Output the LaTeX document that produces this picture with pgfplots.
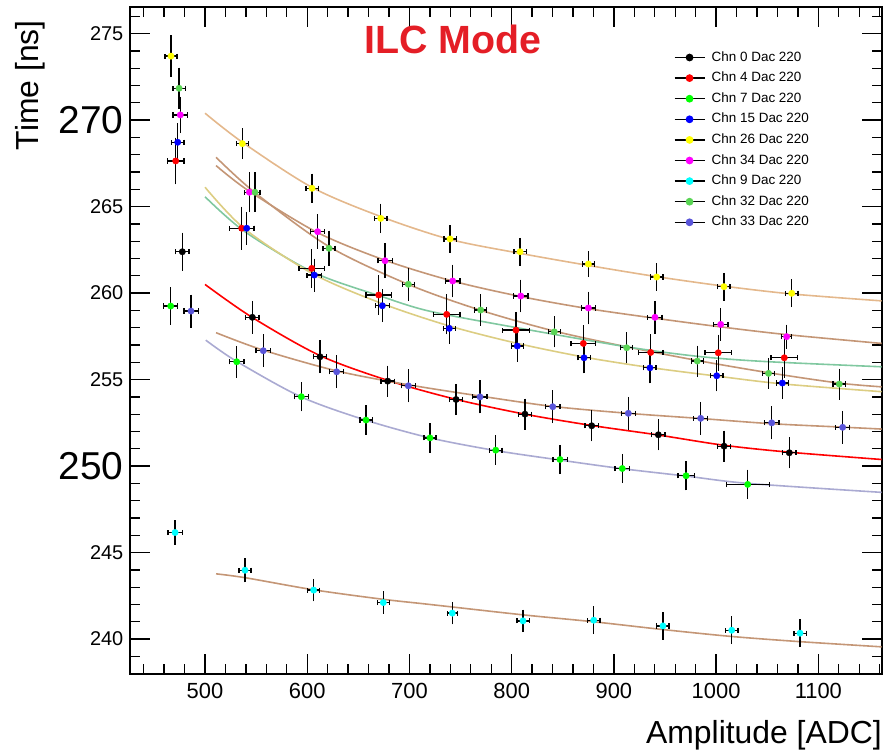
\documentclass[border=0pt]{standalone}
\usepackage{pgfplots}
\pgfplotsset{compat=1.18}
\usepackage{pgfplotstable}
\usepackage{fontspec}
\setmainfont{Liberation Sans}

% ROOT colours 1..9 and the fit colours
\definecolor{c1}{RGB}{0,0,0}
\definecolor{c2}{RGB}{255,0,0}
\definecolor{c3}{RGB}{0,255,0}
\definecolor{c4}{RGB}{0,0,255}
\definecolor{c5}{RGB}{255,255,0}
\definecolor{c6}{RGB}{255,0,255}
\definecolor{c7}{RGB}{0,255,255}
\definecolor{c8}{RGB}{89,212,84}
\definecolor{c9}{RGB}{89,84,217}
\definecolor{fittan}{RGB}{228,184,140}
\definecolor{fitbrown}{RGB}{196,150,118}
\definecolor{fitteal}{RGB}{128,200,160}
\definecolor{fitkhaki}{RGB}{220,205,130}
\definecolor{fitlav}{RGB}{170,170,210}
\definecolor{ilcred}{RGB}{228,30,38}

% x y ex ey
\pgfplotstableread{
x y ex ey
477.8 262.39 6.5 0.95
546.3 258.60 6.5 0.80
612.5 256.32 6.5 0.80
678.7 254.91 6.5 0.75
745.6 253.85 6.5 0.75
813.0 253.00 6.5 0.75
878.3 252.33 6.5 0.75
943.5 251.81 6.5 0.75
1007.8 251.15 6.5 0.75
1071.6 250.77 6.5 0.75
}\chnzero
\pgfplotstableread{
x y ex ey
471.3 267.64 8 1.20
535.9 263.75 12 1.10
604.4 261.43 12.5 0.96
669.9 259.89 12.5 1.00
736.4 258.77 13 1.00
804.2 257.86 13 0.90
870.1 257.09 12 0.90
936.0 256.57 12 0.90
1002.1 256.55 13 0.90
1066.7 256.26 13 1.00
}\chnfour
\pgfplotstableread{
x y ex ey
466.4 259.25 7 0.93
531.0 256.03 7 0.77
594.2 254.01 7 0.70
657.5 252.66 6 0.70
720.1 251.63 6 0.70
784.4 250.92 6 0.70
847.3 250.38 7 0.70
908.2 249.86 7 0.70
970.6 249.44 8 0.70
1030.9 248.94 21 0.70
}\chnseven
\pgfplotstableread{
x y ex ey
473.3 268.72 6 0.95
540.8 263.75 7 0.80
606.9 261.04 7 0.80
673.5 259.27 7 0.80
739.0 257.96 6 0.75
805.5 256.94 6 0.75
870.8 256.26 6 0.75
935.3 255.68 6 0.75
1000.6 255.22 6 0.75
1064.8 254.80 6 0.75
}\chnfifteen
\pgfplotstableread{
x y ex ey
466.7 273.70 6 1.05
536.5 268.64 6 0.75
604.7 266.06 6 0.70
671.9 264.32 6 0.70
739.7 263.13 6 0.65
808.2 262.39 6 0.65
875.0 261.68 6 0.60
941.9 260.93 6 0.65
1007.7 260.37 6 0.65
1074.0 259.99 6 0.65
}\chntwentysix
\pgfplotstableread{
x y ex ey
475.8 270.30 7 0.90
543.4 265.83 5 1.00
610.2 263.55 7 0.85
676.1 261.87 7 0.85
742.3 260.70 7 0.80
808.9 259.83 7 0.80
875.0 259.14 7 0.80
940.2 258.60 7 0.80
1004.5 258.19 7 0.80
1069.0 257.48 5 0.55
}\chnthirtyfour
\pgfplotstableread{
x y ex ey
470.7 246.16 7 0.56
539.1 243.98 6 0.55
606.3 242.83 6 0.50
674.4 242.11 6 0.50
741.9 241.50 5 0.50
811.1 241.05 6 0.50
880.3 241.09 6 0.65
948.0 240.76 6 0.65
1015.3 240.51 6 0.65
1082.1 240.34 6 0.65
}\chnnine
\pgfplotstableread{
x y ex ey
474.6 271.84 6 1.05
548.9 265.83 5 1.00
621.3 262.59 6 0.87
698.9 260.51 6 0.80
769.7 259.02 6 0.75
841.7 257.76 6 0.75
912.5 256.84 6 0.75
981.6 256.07 6 0.75
1051.3 255.36 6 0.75
1120.5 254.74 6 0.75
}\chnthirtytwo
\pgfplotstableread{
x y ex ey
486.3 258.96 7 0.80
557.0 256.67 7 0.80
628.8 255.45 7 0.80
698.9 254.64 7 0.80
769.0 254.00 7 0.80
840.2 253.43 7 0.80
914.1 253.05 7 0.80
984.9 252.76 7 0.80
1054.4 252.50 7 0.80
1123.8 252.24 7 0.80
}\chnthirtythree

\pgfplotsset{
  xerr/.style={only marks, mark=none, forget plot,
    error bars/.cd, x dir=both, x explicit, error mark=|,
    error bar style={draw=black, solid, line width=1.3bp},
    error mark options={draw=black, solid, rotate=0, line width=1.3bp, mark size=2.6bp}},
  yerr/.style={only marks, mark=none, forget plot,
    error bars/.cd, y dir=both, y explicit, error mark=-,
    error bar style={draw=black, solid, line width=1.3bp},
    error mark options={draw=black, solid, rotate=0, line width=1.3bp, mark size=2.6bp}},
  pts/.style={only marks, mark=*, mark size=3.2bp,
    mark options={draw=#1, fill=#1}, forget plot},
  fit/.style={#1, line width=1.6bp, smooth, no marks, forget plot},
  leg/.style={black, line width=1.3bp, mark=*, mark size=3.2bp,
    mark options={draw=#1, fill=#1}},
}
\newcommand{\series}[2]{%
  \addplot[xerr] table[x=x, y=y, x error=ex] {#1};
  \addplot[yerr] table[x=x, y=y, y error=ey] {#1};
  \addplot[pts=#2] table[x=x, y=y] {#1};
}

\begin{document}
\begin{tikzpicture}
\path[use as bounding box] (0,0) rectangle (884bp,751bp);
\begin{axis}[
  at={(130bp,77bp)}, anchor=south west,
  scale only axis, width=752bp, height=667bp,
  xmin=426.6, xmax=1162.3, ymin=237.98, ymax=276.54,
  axis line style={line width=1.3bp},
  every tick/.style={black, line width=1.3bp},
  major tick length=20bp, minor tick length=10bp,
  xtick={500,600,...,1100},
  xticklabels={500,600,700,800,900,1000,1100},
  minor xtick={440,460,...,1160},
  ytick={240,245,...,275},
  yticklabels={240,245,{\fontsize{39}{39}\selectfont 250},255,260,265,{\fontsize{39}{39}\selectfont 270},275},
  minor ytick={238,239,...,276},
  xticklabel style={font=\fontsize{22}{22}\selectfont, inner sep=0pt, yshift=-9bp},
  yticklabel style={font=\fontsize{20}{20}\selectfont, inner sep=0pt, xshift=-6.5bp},
  xlabel={Amplitude [ADC]},
  xlabel style={at={(rel axis cs:1,0)}, anchor=north east, inner sep=0pt,
    yshift=-46bp, font=\fontsize{32}{32}\selectfont},
  ylabel={Time [ns]},
  ylabel style={at={([xshift=-115bp, yshift=-13bp]rel axis cs:0,1)},
    anchor=north east, inner sep=0pt,
    font=\fontsize{32}{32}\selectfont},
  title={ILC Mode},
  title style={at={(rel axis cs:0.4295,1)}, anchor=base, inner sep=0pt,
    yshift=-52bp, text=ilcred, font=\fontsize{39.5}{39.5}\selectfont\bfseries},
  legend image code/.code={\draw[mark repeat=2, mark phase=2, #1]
    plot coordinates {(0bp,0bp)(15bp,0bp)(30bp,0bp)};},
  legend style={at={(rel axis cs:0.723,0.9343)}, anchor=north west,
    draw=none, fill=none, inner sep=0pt,
    font=\fontsize{13.5}{13.5}\selectfont,
    nodes={inner sep=0pt, text height=10bp, text depth=3bp},
    row sep=7.6bp, column sep=6.5bp},
  legend cell align=left,
]
% fit curves
\addplot[fit=fittan] coordinates {(500,270.4)(537,268.7)(605,266.1)(673,264.4)(740,263.1)(808,262.3)(875,261.6)(942,260.95)(1008,260.4)(1074,259.95)(1162,259.55)};
\addplot[fit=fitbrown] coordinates {(510.8,267.37)(543,265.9)(610,263.5)(676,261.9)(742,260.7)(809,259.8)(875,259.1)(940,258.55)(1004,258.05)(1069,257.6)(1162,257.09)};
\addplot[fit=fitbrown] coordinates {(510.8,267.85)(549,265.8)(621,262.7)(699,260.5)(770,259.0)(842,257.8)(912,256.9)(982,256.1)(1051,255.4)(1120,254.8)(1162,254.58)};
\addplot[fit=fitteal] coordinates {(500,265.57)(539,263.55)(606,261.2)(673,259.8)(720,258.95)(805,258.0)(912,256.9)(981,256.35)(1046,256.05)(1162,255.74)};
\addplot[fit=fitkhaki] coordinates {(500,266.12)(539,263.7)(606,261.1)(673,259.4)(739,258.1)(805,257.1)(871,256.3)(935,255.7)(1001,255.2)(1065,254.75)(1162,254.3)};
\addplot[fit=red] coordinates {(500,260.5)(546,258.6)(612,256.4)(679,254.95)(746,253.85)(813,253.0)(878,252.35)(943,251.8)(1008,251.2)(1072,250.8)(1162,250.38)};
\addplot[fit=fitbrown] coordinates {(510.8,257.71)(557,256.7)(629,255.5)(699,254.7)(769,254.05)(840,253.45)(914,253.05)(985,252.75)(1054,252.45)(1124,252.25)(1162,252.14)};
\addplot[fit=fitlav] coordinates {(500.7,257.28)(531,256.05)(594,254.0)(657,252.66)(720,251.63)(784,250.9)(847,250.35)(908,249.85)(971,249.42)(1031,249.0)(1162,248.48)};
\addplot[fit=fitbrown] coordinates {(510.8,243.77)(539,243.55)(606,242.85)(674,242.3)(720,242.0)(811,241.4)(880,241.0)(948,240.55)(1015,240.15)(1082,239.85)(1162,239.55)};
% data points with x and y errors
\series{\chnzero}{c1}
\series{\chnfour}{c2}
\series{\chnseven}{c3}
\series{\chnfifteen}{c4}
\series{\chntwentysix}{c5}
\series{\chnthirtyfour}{c6}
\series{\chnnine}{c7}
\series{\chnthirtytwo}{c8}
\series{\chnthirtythree}{c9}
% legend
\addlegendimage{leg=c1}\addlegendentry{Chn 0 Dac 220}
\addlegendimage{leg=c2}\addlegendentry{Chn 4 Dac 220}
\addlegendimage{leg=c3}\addlegendentry{Chn 7 Dac 220}
\addlegendimage{leg=c4}\addlegendentry{Chn 15 Dac 220}
\addlegendimage{leg=c5}\addlegendentry{Chn 26 Dac 220}
\addlegendimage{leg=c6}\addlegendentry{Chn 34 Dac 220}
\addlegendimage{leg=c7}\addlegendentry{Chn 9 Dac 220}
\addlegendimage{leg=c8}\addlegendentry{Chn 32 Dac 220}
\addlegendimage{leg=c9}\addlegendentry{Chn 33 Dac 220}
\end{axis}
\end{tikzpicture}
\end{document}
